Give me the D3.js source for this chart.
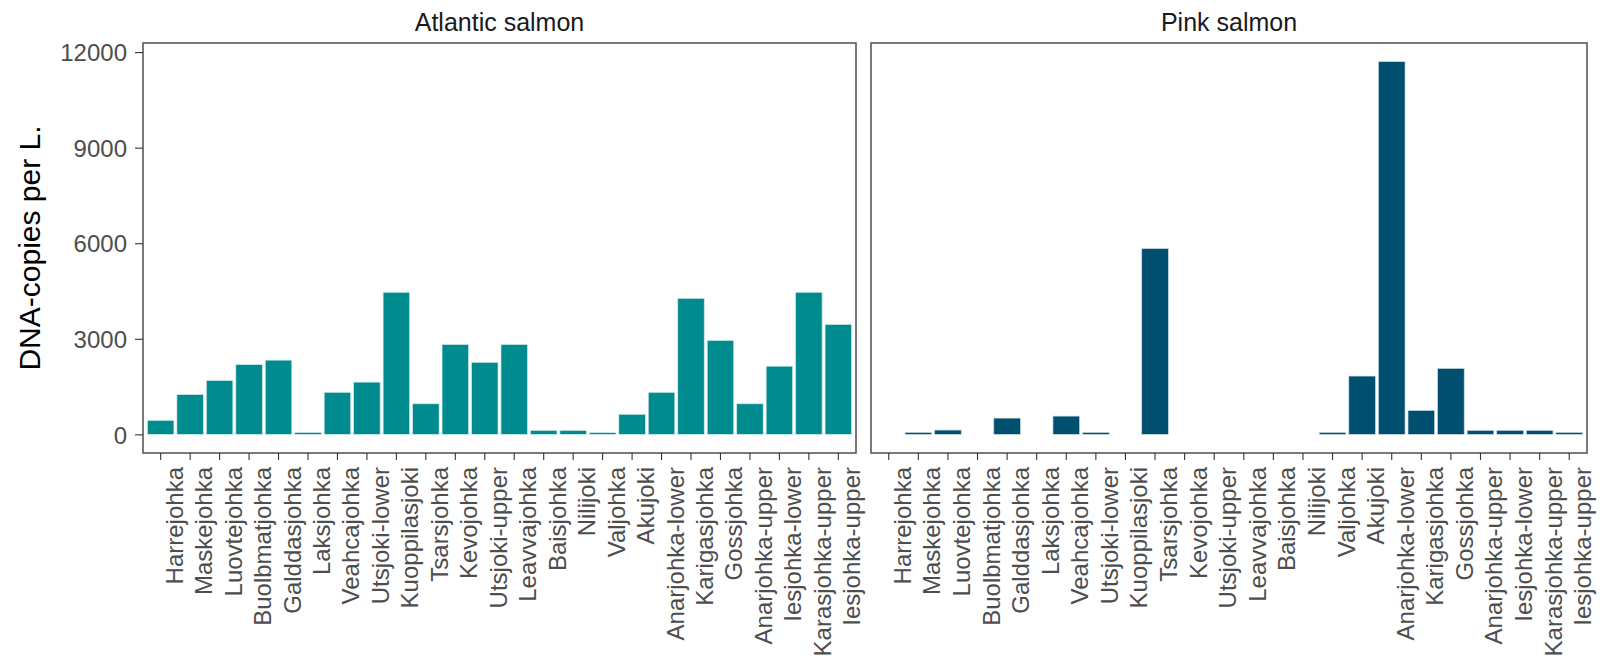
<!DOCTYPE html>
<html>
<head>
<meta charset="utf-8">
<script src="https://cdn.jsdelivr.net/npm/d3@7"></script>
<style>
  html, body { margin: 0; padding: 0; background: #fff; }
  svg { display: block; font-family: "Liberation Sans", Arial, sans-serif; }
</style>
</head>
<body>
<div id="chart"></div>
<script>
// rivers (x categories), same order in both panels
var rivers = ['Harrejohka', 'Maskejohka', 'Luovtejohka', 'Buolbmatjohka', 'Galddasjohka',
  'Laksjohka', 'Veahcajohka', 'Utsjoki-lower', 'Kuoppilasjoki', 'Tsarsjohka', 'Kevojohka',
  'Utsjoki-upper', 'Leavvajohka', 'Baisjohka', 'Nilijoki', 'Valjohka', 'Akujoki',
  'Anarjohka-lower', 'Karigasjohka', 'Gossjohka', 'Anarjohka-upper', 'Iesjohka-lower',
  'Karasjohka-upper', 'Iesjohka-upper'];

// DNA copies per litre (null = no bar)
var atlantic = [440, 1250, 1690, 2190, 2330, 60, 1320, 1640, 4460, 960, 2820,
  2260, 2820, 125, 125, 55, 630, 1320, 4270, 2950, 960, 2140, 4460, 3450];
var pink = [null, 60, 135, null, 510, null, 573, 60, null, 5830, null,
  null, null, null, null, 60, 1830, 11700, 750, 2070, 125, 125, 125, 60];

var species = ['Atlantic salmon', 'Pink salmon'];
var yTicks = [0, 3000, 6000, 9000, 12000];

(function () {
  'use strict';

  var W = 1602, H = 670;
  var top = 43, bottom = 453;
  var panels = [
    { name: species[0], values: atlantic, x0: 143, x1: 856, fill: '#008b8f', stroke: '#cfeaeb' },
    { name: species[1], values: pink, x0: 871, x1: 1587, fill: '#004f6e', stroke: '#c6d9e2' }
  ];

  var svg = d3.select('#chart').append('svg')
    .attr('width', W)
    .attr('height', H);

  // shared y scale (ggplot-like 5% expansion)
  var all = atlantic.concat(pink).filter(function (v) { return v != null; });
  var ymax = d3.max(all);
  var pad = ymax * 0.05;
  var y = d3.scaleLinear().domain([-pad, ymax + pad]).range([bottom, top]);

  panels.forEach(function (p, i) {
    var x = d3.scaleBand()
      .domain(rivers)
      .range([p.x0, p.x1])
      .paddingInner(0.1)
      .paddingOuter(0.15);

    var g = svg.append('g');

    // bars
    var data = rivers.map(function (r, k) { return { river: r, v: p.values[k] }; })
      .filter(function (d) { return d.v != null; });

    g.selectAll('rect.bar')
      .data(data)
      .join('rect')
      .attr('class', 'bar')
      .attr('x', function (d) { return x(d.river); })
      .attr('width', x.bandwidth())
      .attr('y', function (d) { return y(d.v); })
      .attr('height', function (d) { return Math.max(1.5, y(0) - y(d.v)); })
      .attr('fill', p.fill)
      .attr('stroke', p.stroke)
      .attr('stroke-width', 0.7);

    // panel border
    g.append('rect')
      .attr('x', p.x0)
      .attr('y', top)
      .attr('width', p.x1 - p.x0)
      .attr('height', bottom - top)
      .attr('fill', 'none')
      .attr('stroke', '#585858')
      .attr('stroke-width', 1.6);

    // strip title
    svg.append('text')
      .attr('x', (p.x0 + p.x1) / 2)
      .attr('y', 31)
      .attr('text-anchor', 'middle')
      .attr('font-size', '25px')
      .attr('fill', '#1a1a1a')
      .text(p.name);

    // x axis with rotated labels
    var xa = svg.append('g')
      .attr('transform', 'translate(0,' + bottom + ')')
      .call(d3.axisBottom(x).tickSize(7).tickSizeOuter(0));
    xa.select('.domain').remove();
    xa.selectAll('.tick line').attr('stroke', '#333').attr('stroke-width', 1.1);
    xa.selectAll('.tick text')
      .attr('transform', 'rotate(-90)')
      .attr('text-anchor', 'end')
      .attr('x', -14)
      .attr('y', 22)
      .attr('dy', 0)
      .attr('font-size', '24px')
      .attr('font-family', '"Liberation Sans", Arial, sans-serif')
      .attr('fill', '#4d4d4d');

    // y axis only on the first panel
    if (i === 0) {
      var ya = svg.append('g')
        .attr('transform', 'translate(' + p.x0 + ',0)')
        .call(d3.axisLeft(y).tickValues(yTicks).tickFormat(d3.format('d'))
          .tickSize(8).tickPadding(8).tickSizeOuter(0));
      ya.select('.domain').remove();
      ya.selectAll('.tick line').attr('stroke', '#333').attr('stroke-width', 1.1);
      ya.selectAll('.tick text')
        .attr('font-size', '24px')
        .attr('font-family', '"Liberation Sans", Arial, sans-serif')
        .attr('fill', '#4d4d4d')
        .attr('dy', '0.36em');
    }
  });

  // y axis title
  svg.append('text')
    .attr('transform', 'translate(40,' + ((top + bottom) / 2) + ') rotate(-90)')
    .attr('text-anchor', 'middle')
    .attr('font-size', '30px')
    .attr('fill', '#000')
    .text('DNA-copies per L.');
})();
</script>
</body>
</html>
